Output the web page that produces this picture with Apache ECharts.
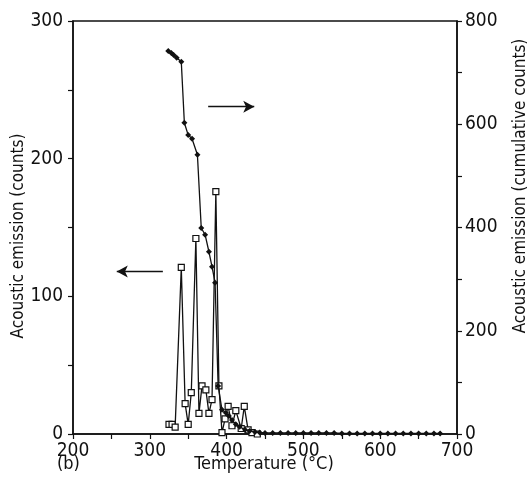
<!DOCTYPE html>
<html><head><meta charset="utf-8">
<script src="https://cdn.jsdelivr.net/npm/echarts@6/dist/echarts.min.js"></script>
<style>html,body{margin:0;padding:0;background:#fff}#c{width:530px;height:490px}</style>
</head><body><div id="c"></div>
<script>
// Acoustic emission counts (open squares, left axis)
const countTemps = [325, 329, 333, 341, 346, 350, 354, 360, 364, 368, 373, 377, 381, 386, 390, 394, 398, 402, 407, 412, 419, 423, 428, 433, 440];
const countValues = [7, 7, 5, 121, 22, 7, 30, 142, 15, 35, 32, 15, 25, 176, 35, 1, 11, 20, 6, 17, 4, 20, 3, 1, 0];
// Cumulative counts (filled diamonds, right axis)
const cumTemps = [324, 328, 331, 335, 341, 345, 350, 355, 362, 367, 372, 377, 381, 385, 389, 394, 399, 403, 407, 412, 417, 424, 430, 437, 443, 450, 460, 470, 480, 490, 500, 510, 520, 530, 540, 550, 560, 570, 580, 590, 600, 610, 620, 630, 640, 650, 660, 670, 678];
const cumValues = [742, 738, 734, 729, 721, 603, 579, 572, 541, 399, 386, 353, 324, 293, 93, 47, 41, 35, 27, 19, 14, 8, 6, 4, 3, 2, 2, 2, 2, 2, 2, 2, 2, 2, 2, 1, 1, 1, 1, 1, 1, 1, 1, 1, 1, 1, 1, 1, 1];
const xTicks = [200, 300, 400, 500, 600, 700];
const leftTicks = [0, 100, 200, 300];
const rightTicks = [0, 200, 400, 600, 800];

const FONT = 'DejaVu Sans Condensed, DejaVu Sans, sans-serif';
const ink = '#111';
const chart = echarts.init(document.getElementById('c'), null, {renderer: 'canvas'});
const axisCommon = {
  axisLine: {show: true, onZero: false, lineStyle: {color: ink, width: 1.5}},
  axisTick: {show: true, inside: false, length: 5, lineStyle: {color: ink, width: 1.2}},
  splitLine: {show: false},
  axisLabel: {color: ink, fontFamily: FONT, fontSize: 19}
};
chart.setOption({
  animation: false,
  backgroundColor: '#fff',
  grid: {left: 73, right: 73, top: 21, bottom: 56, show: true, borderColor: ink, borderWidth: 1.5},
  xAxis: Object.assign({}, axisCommon, {
    type: 'value', min: 200, max: 700, interval: 50,
    axisLabel: Object.assign({}, axisCommon.axisLabel, {margin: 8,
      formatter: v => xTicks.includes(v) ? String(v) : ''})
  }),
  yAxis: [
    Object.assign({}, axisCommon, {
      type: 'value', min: 0, max: 300, interval: 50, position: 'left',
      axisLabel: Object.assign({}, axisCommon.axisLabel, {margin: 10,
        formatter: v => leftTicks.includes(v) ? String(v) : ''})
    }),
    Object.assign({}, axisCommon, {
      type: 'value', min: 0, max: 800, interval: 100, position: 'right',
      axisLabel: Object.assign({}, axisCommon.axisLabel, {margin: 8,
        formatter: v => rightTicks.includes(v) ? String(v) : ''})
    })
  ],
  series: [
    {
      type: 'line', yAxisIndex: 0,
      data: countTemps.map((t, i) => [t, countValues[i]]),
      symbol: 'rect', symbolSize: 6,
      lineStyle: {color: ink, width: 1.3},
      itemStyle: {color: '#fff', borderColor: ink, borderWidth: 1.2},
      markLine: {
        silent: true, symbol: ['none', 'arrow'], symbolSize: [9, 11],
        lineStyle: {color: ink, width: 1.3, type: 'solid'}, label: {show: false},
        data: [[{coord: [317, 118]}, {coord: [257, 118]}]]
      },
      z: 3
    },
    {
      type: 'line', yAxisIndex: 1,
      data: cumTemps.map((t, i) => [t, cumValues[i]]),
      symbol: 'diamond', symbolSize: 6,
      lineStyle: {color: ink, width: 1.3},
      itemStyle: {color: ink},
      markLine: {
        silent: true, symbol: ['none', 'arrow'], symbolSize: [9, 11],
        lineStyle: {color: ink, width: 1.3, type: 'solid'}, label: {show: false},
        data: [[{coord: [376, 634]}, {coord: [436, 634]}]]
      },
      z: 4
    }
  ],
  graphic: [
    {type: 'text', x: 264, y: 464, style: {text: 'Temperature (°C)', font: '18px ' + FONT, fill: ink, align: 'center', verticalAlign: 'middle'}},
    {type: 'text', x: 57, y: 464, style: {text: '(b)', font: '18px ' + FONT, fill: ink, align: 'left', verticalAlign: 'middle'}},
    {type: 'text', rotation: Math.PI / 2, x: 19, y: 236, style: {text: 'Acoustic emission (counts)', font: '17px ' + FONT, fill: ink, align: 'center', verticalAlign: 'middle'}},
    {type: 'text', rotation: Math.PI / 2, x: 521, y: 186, style: {text: 'Acoustic emission (cumulative counts)', font: '17px ' + FONT, fill: ink, align: 'center', verticalAlign: 'middle'}}
  ]
});
</script></body></html>
